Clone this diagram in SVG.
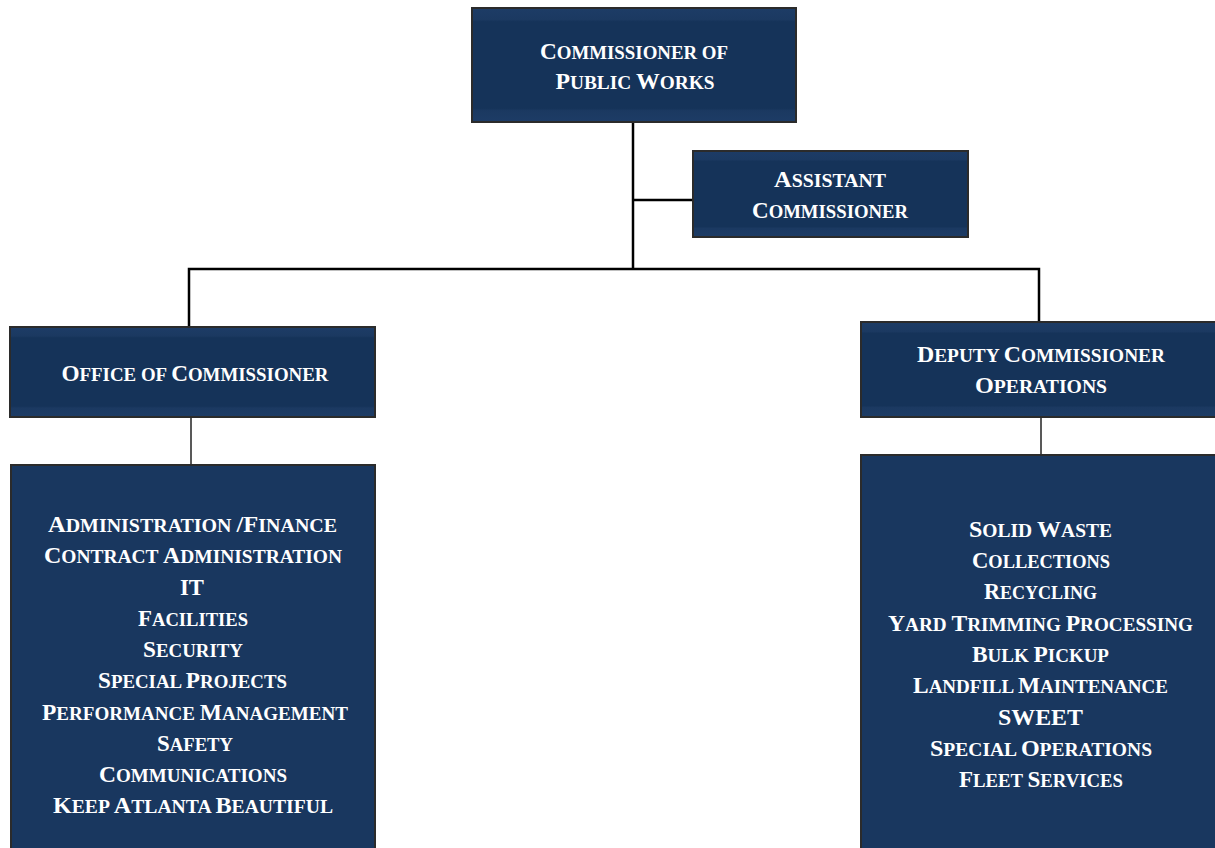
<svg xmlns="http://www.w3.org/2000/svg" width="1215" height="848" viewBox="0 0 1215 848">
<defs>
<linearGradient id="fillG" x1="0" y1="0" x2="0" y2="1">
<stop offset="0" stop-color="#1d3c66"/>
<stop offset="0.1" stop-color="#1b3961"/>
<stop offset="0.12" stop-color="#153359"/>
<stop offset="0.88" stop-color="#153359"/>
<stop offset="0.9" stop-color="#1b3961"/>
<stop offset="1" stop-color="#1d3c66"/>
</linearGradient>
</defs>
<style>
.box{fill:url(#fillG);stroke:#2b2b2b;stroke-width:2}
.tall{fill:#19375f;stroke:#2b2b2b;stroke-width:2}
.t{font-family:"Liberation Serif","Times New Roman",serif;font-weight:bold;font-size:24px;fill:#ffffff;text-anchor:middle}
.t2{font-size:23px}
.s{font-size:19.5px}
.s2{font-size:18.7px}
.c{fill:none;stroke:#000;stroke-width:2.5}
.c2{fill:none;stroke:#222;stroke-width:1.5}
</style>
<rect width="1215" height="848" fill="#ffffff"/>
<g id="connectors">
<line class="c" x1="633" y1="122" x2="633" y2="268"/>
<line class="c" x1="633" y1="200" x2="693" y2="200"/>
<polyline class="c" points="189,327 189,269 1039,269 1039,322"/>
<line class="c2" x1="191" y1="417" x2="191" y2="465"/>
<line class="c2" x1="1041" y1="417" x2="1041" y2="455"/>
</g>
<g id="commissioner">
<rect class="box" x="472" y="8" width="324" height="114"/>
<text class="t" x="634" y="59" textLength="188" lengthAdjust="spacingAndGlyphs">C<tspan class="s">OMMISSIONER OF</tspan></text>
<text class="t" x="635" y="89" textLength="159" lengthAdjust="spacingAndGlyphs">P<tspan class="s">UBLIC </tspan>W<tspan class="s">ORKS</tspan></text>
</g>
<g id="assistant">
<rect class="box" x="693" y="151" width="275" height="86"/>
<text class="t" x="830" y="187" textLength="112" lengthAdjust="spacingAndGlyphs">A<tspan class="s">SSISTANT</tspan></text>
<text class="t" x="830" y="218" textLength="156" lengthAdjust="spacingAndGlyphs">C<tspan class="s">OMMISSIONER</tspan></text>
</g>
<g id="office">
<rect class="box" x="10" y="327" width="365" height="90"/>
<text class="t t2" x="195" y="381" textLength="267" lengthAdjust="spacingAndGlyphs">O<tspan class="s2">FFICE OF </tspan>C<tspan class="s2">OMMISSIONER</tspan></text>
</g>
<g id="deputy">
<rect class="box" x="861" y="322" width="364" height="95"/>
<text class="t" x="1041" y="362" textLength="248" lengthAdjust="spacingAndGlyphs">D<tspan class="s">EPUTY </tspan>C<tspan class="s">OMMISSIONER</tspan></text>
<text class="t" x="1041" y="393" textLength="132" lengthAdjust="spacingAndGlyphs">O<tspan class="s">PERATIONS</tspan></text>
</g>
<g id="office-units">
<rect class="tall" x="11" y="465" width="364" height="400"/>
<text class="t" x="192.5" y="532" textLength="289" lengthAdjust="spacingAndGlyphs">A<tspan class="s">DMINISTRATION </tspan>/F<tspan class="s">INANCE</tspan></text>
<text class="t" x="193" y="563" textLength="298" lengthAdjust="spacingAndGlyphs">C<tspan class="s">ONTRACT </tspan>A<tspan class="s">DMINISTRATION</tspan></text>
<text class="t" x="192" y="595" textLength="24" lengthAdjust="spacingAndGlyphs">IT</text>
<text class="t" x="193" y="626" textLength="110" lengthAdjust="spacingAndGlyphs">F<tspan class="s">ACILITIES</tspan></text>
<text class="t" x="193" y="657" textLength="100" lengthAdjust="spacingAndGlyphs">S<tspan class="s">ECURITY</tspan></text>
<text class="t t2" x="192.5" y="688" textLength="189" lengthAdjust="spacingAndGlyphs">S<tspan class="s2">PECIAL </tspan>P<tspan class="s2">ROJECTS</tspan></text>
<text class="t t2" x="195" y="720" textLength="306" lengthAdjust="spacingAndGlyphs">P<tspan class="s2">ERFORMANCE </tspan>M<tspan class="s2">ANAGEMENT</tspan></text>
<text class="t" x="195" y="751" textLength="76" lengthAdjust="spacingAndGlyphs">S<tspan class="s">AFETY</tspan></text>
<text class="t" x="193" y="782" textLength="188" lengthAdjust="spacingAndGlyphs">C<tspan class="s">OMMUNICATIONS</tspan></text>
<text class="t" x="193" y="813" textLength="280" lengthAdjust="spacingAndGlyphs">K<tspan class="s">EEP </tspan>A<tspan class="s">TLANTA </tspan>B<tspan class="s">EAUTIFUL</tspan></text>
</g>
<g id="operations-units">
<rect class="tall" x="861" y="455" width="364" height="410"/>
<text class="t" x="1040.5" y="537" textLength="143" lengthAdjust="spacingAndGlyphs">S<tspan class="s">OLID </tspan>W<tspan class="s">ASTE</tspan></text>
<text class="t" x="1041" y="568" textLength="138" lengthAdjust="spacingAndGlyphs">C<tspan class="s">OLLECTIONS</tspan></text>
<text class="t" x="1040.5" y="599" textLength="113" lengthAdjust="spacingAndGlyphs">R<tspan class="s">ECYCLING</tspan></text>
<text class="t" x="1040.5" y="631" textLength="305" lengthAdjust="spacingAndGlyphs">Y<tspan class="s">ARD </tspan>T<tspan class="s">RIMMING </tspan>P<tspan class="s">ROCESSING</tspan></text>
<text class="t" x="1040.5" y="662" textLength="137" lengthAdjust="spacingAndGlyphs">B<tspan class="s">ULK </tspan>P<tspan class="s">ICKUP</tspan></text>
<text class="t" x="1040.5" y="693" textLength="255" lengthAdjust="spacingAndGlyphs">L<tspan class="s">ANDFILL </tspan>M<tspan class="s">AINTENANCE</tspan></text>
<text class="t" x="1040.5" y="725" textLength="85" lengthAdjust="spacingAndGlyphs">SWEET</text>
<text class="t" x="1041" y="756" textLength="222" lengthAdjust="spacingAndGlyphs">S<tspan class="s">PECIAL </tspan>O<tspan class="s">PERATIONS</tspan></text>
<text class="t" x="1041" y="787" textLength="164" lengthAdjust="spacingAndGlyphs">F<tspan class="s">LEET </tspan>S<tspan class="s">ERVICES</tspan></text>
</g>
</svg>
